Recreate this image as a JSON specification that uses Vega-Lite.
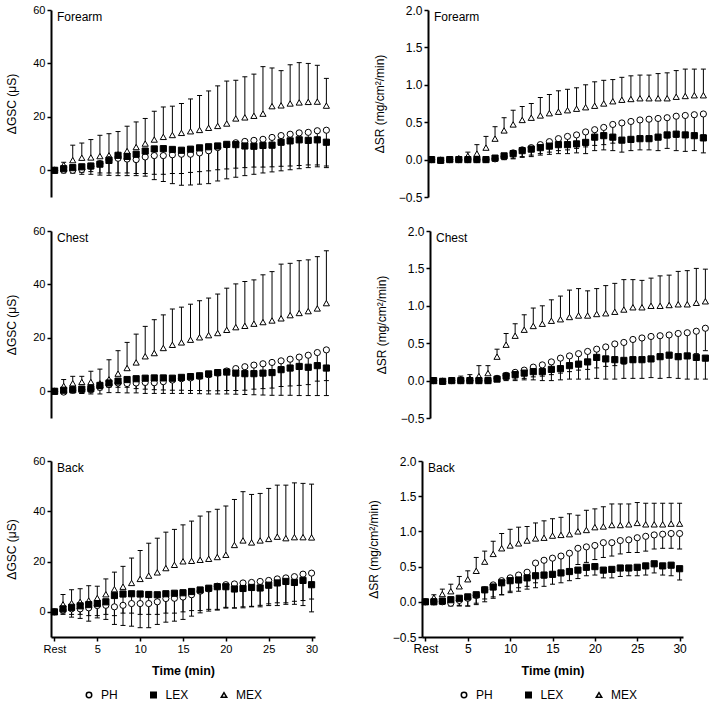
{
"$schema":"https://vega.github.io/schema/vega-lite/v6.json",
"background":"white",
"padding":{"left":5,"top":4,"right":0,"bottom":0},
"data":{"values":[
{"p":"gf","s":"MEX","t":0,"m":0,"e":0},{"p":"gf","s":"MEX","t":1,"m":2.0,"e":3.0},{"p":"gf","s":"MEX","t":2,"m":3.8,"e":9.4},{"p":"gf","s":"MEX","t":3,"m":4.7,"e":10.2},{"p":"gf","s":"MEX","t":4,"m":4.8,"e":11.5},{"p":"gf","s":"MEX","t":5,"m":5.3,"e":13.1},{"p":"gf","s":"MEX","t":6,"m":5.6,"e":13.7},{"p":"gf","s":"MEX","t":7,"m":6.0,"e":14.5},{"p":"gf","s":"MEX","t":8,"m":7.2,"e":16.5},{"p":"gf","s":"MEX","t":9,"m":8.7,"e":18.1},{"p":"gf","s":"MEX","t":10,"m":10.0,"e":19.4},{"p":"gf","s":"MEX","t":11,"m":11.5,"e":22.1},{"p":"gf","s":"MEX","t":12,"m":12.5,"e":23.7},{"p":"gf","s":"MEX","t":13,"m":13.2,"e":24.0},{"p":"gf","s":"MEX","t":14,"m":14.0,"e":25.0},{"p":"gf","s":"MEX","t":15,"m":14.6,"e":26.7},{"p":"gf","s":"MEX","t":16,"m":15.1,"e":28.0},{"p":"gf","s":"MEX","t":17,"m":15.9,"e":29.7},{"p":"gf","s":"MEX","t":18,"m":16.6,"e":31.6},{"p":"gf","s":"MEX","t":19,"m":17.5,"e":33.4},{"p":"gf","s":"MEX","t":20,"m":19.4,"e":33.7},{"p":"gf","s":"MEX","t":21,"m":19.8,"e":35.0},{"p":"gf","s":"MEX","t":22,"m":20.4,"e":36.0},{"p":"gf","s":"MEX","t":23,"m":21.2,"e":38.8},{"p":"gf","s":"MEX","t":24,"m":24.0,"e":38.3},{"p":"gf","s":"MEX","t":25,"m":24.3,"e":37.3},{"p":"gf","s":"MEX","t":26,"m":25.0,"e":39.5},{"p":"gf","s":"MEX","t":27,"m":25.4,"e":40.3},{"p":"gf","s":"MEX","t":28,"m":25.6,"e":40.0},{"p":"gf","s":"MEX","t":29,"m":25.7,"e":39.3},{"p":"gf","s":"MEX","t":30,"m":24.2,"e":34.4},
{"p":"gf","s":"PH","t":0,"m":0,"e":0},{"p":"gf","s":"PH","t":1,"m":0,"e":-1},{"p":"gf","s":"PH","t":2,"m":0,"e":-1},{"p":"gf","s":"PH","t":3,"m":0.3,"e":-1.5},{"p":"gf","s":"PH","t":4,"m":1.5,"e":-1.5},{"p":"gf","s":"PH","t":5,"m":2.5,"e":-1.8},{"p":"gf","s":"PH","t":6,"m":4.0,"e":-1.9},{"p":"gf","s":"PH","t":7,"m":4.5,"e":-2},{"p":"gf","s":"PH","t":8,"m":4.2,"e":-2},{"p":"gf","s":"PH","t":9,"m":4.0,"e":-2},{"p":"gf","s":"PH","t":10,"m":5.0,"e":-2.2},{"p":"gf","s":"PH","t":11,"m":5.5,"e":-3.5},{"p":"gf","s":"PH","t":12,"m":5.5,"e":-4.2},{"p":"gf","s":"PH","t":13,"m":5.8,"e":-5},{"p":"gf","s":"PH","t":14,"m":6.0,"e":-5.6},{"p":"gf","s":"PH","t":15,"m":6.0,"e":-5.5},{"p":"gf","s":"PH","t":16,"m":6.5,"e":-5.2},{"p":"gf","s":"PH","t":17,"m":7.3,"e":-5},{"p":"gf","s":"PH","t":18,"m":8.5,"e":-4},{"p":"gf","s":"PH","t":19,"m":9.5,"e":-3.2},{"p":"gf","s":"PH","t":20,"m":10.3,"e":-2.6},{"p":"gf","s":"PH","t":21,"m":10.8,"e":-2},{"p":"gf","s":"PH","t":22,"m":11.2,"e":-1.5},{"p":"gf","s":"PH","t":23,"m":11.6,"e":-1},{"p":"gf","s":"PH","t":24,"m":12.3,"e":-0.6},{"p":"gf","s":"PH","t":25,"m":13.0,"e":-0.2},{"p":"gf","s":"PH","t":26,"m":13.5,"e":0.2},{"p":"gf","s":"PH","t":27,"m":14.0,"e":0.6},{"p":"gf","s":"PH","t":28,"m":14.2,"e":1.0},{"p":"gf","s":"PH","t":29,"m":14.8,"e":1.3},{"p":"gf","s":"PH","t":30,"m":15.0,"e":1.6},
{"p":"gf","s":"LEX","t":0,"m":0,"e":0},{"p":"gf","s":"LEX","t":1,"m":0.6,"e":-0.5},{"p":"gf","s":"LEX","t":2,"m":1.0,"e":-1},{"p":"gf","s":"LEX","t":3,"m":1.3,"e":-0.8},{"p":"gf","s":"LEX","t":4,"m":1.6,"e":-0.5},{"p":"gf","s":"LEX","t":5,"m":2.3,"e":-1},{"p":"gf","s":"LEX","t":6,"m":3.7,"e":-1},{"p":"gf","s":"LEX","t":7,"m":5.6,"e":-1},{"p":"gf","s":"LEX","t":8,"m":5.2,"e":-1},{"p":"gf","s":"LEX","t":9,"m":6.0,"e":-1.2},{"p":"gf","s":"LEX","t":10,"m":7.2,"e":-1.2},{"p":"gf","s":"LEX","t":11,"m":8.0,"e":-1.5},{"p":"gf","s":"LEX","t":12,"m":8.1,"e":-1.5},{"p":"gf","s":"LEX","t":13,"m":7.8,"e":-1.2},{"p":"gf","s":"LEX","t":14,"m":7.5,"e":-1.2},{"p":"gf","s":"LEX","t":15,"m":7.9,"e":-0.8},{"p":"gf","s":"LEX","t":16,"m":8.4,"e":-0.5},{"p":"gf","s":"LEX","t":17,"m":8.8,"e":-0.2},{"p":"gf","s":"LEX","t":18,"m":9.1,"e":0.2},{"p":"gf","s":"LEX","t":19,"m":9.7,"e":0.5},{"p":"gf","s":"LEX","t":20,"m":9.6,"e":0.8},{"p":"gf","s":"LEX","t":21,"m":9.1,"e":1.0},{"p":"gf","s":"LEX","t":22,"m":9.0,"e":1.2},{"p":"gf","s":"LEX","t":23,"m":9.3,"e":1.2},{"p":"gf","s":"LEX","t":24,"m":9.4,"e":1.3},{"p":"gf","s":"LEX","t":25,"m":10.5,"e":1.5},{"p":"gf","s":"LEX","t":26,"m":11.0,"e":1.6},{"p":"gf","s":"LEX","t":27,"m":11.4,"e":1.8},{"p":"gf","s":"LEX","t":28,"m":11.2,"e":2.0},{"p":"gf","s":"LEX","t":29,"m":11.4,"e":2.0},{"p":"gf","s":"LEX","t":30,"m":10.5,"e":1.0},
{"p":"sf","s":"MEX","t":0,"m":0,"e":0},{"p":"sf","s":"MEX","t":1,"m":0,"e":0.01},{"p":"sf","s":"MEX","t":2,"m":0.01,"e":0.02},{"p":"sf","s":"MEX","t":3,"m":0.02,"e":0.04},{"p":"sf","s":"MEX","t":4,"m":0.05,"e":0.1},{"p":"sf","s":"MEX","t":5,"m":0.08,"e":0.2},{"p":"sf","s":"MEX","t":6,"m":0.16,"e":0.31},{"p":"sf","s":"MEX","t":7,"m":0.28,"e":0.44},{"p":"sf","s":"MEX","t":8,"m":0.39,"e":0.56},{"p":"sf","s":"MEX","t":9,"m":0.47,"e":0.66},{"p":"sf","s":"MEX","t":10,"m":0.53,"e":0.71},{"p":"sf","s":"MEX","t":11,"m":0.56,"e":0.75},{"p":"sf","s":"MEX","t":12,"m":0.59,"e":0.83},{"p":"sf","s":"MEX","t":13,"m":0.62,"e":0.87},{"p":"sf","s":"MEX","t":14,"m":0.64,"e":0.92},{"p":"sf","s":"MEX","t":15,"m":0.66,"e":0.94},{"p":"sf","s":"MEX","t":16,"m":0.68,"e":0.96},{"p":"sf","s":"MEX","t":17,"m":0.70,"e":1.0},{"p":"sf","s":"MEX","t":18,"m":0.72,"e":1.04},{"p":"sf","s":"MEX","t":19,"m":0.75,"e":1.06},{"p":"sf","s":"MEX","t":20,"m":0.78,"e":1.07},{"p":"sf","s":"MEX","t":21,"m":0.80,"e":1.1},{"p":"sf","s":"MEX","t":22,"m":0.81,"e":1.12},{"p":"sf","s":"MEX","t":23,"m":0.82,"e":1.13},{"p":"sf","s":"MEX","t":24,"m":0.82,"e":1.13},{"p":"sf","s":"MEX","t":25,"m":0.82,"e":1.15},{"p":"sf","s":"MEX","t":26,"m":0.82,"e":1.16},{"p":"sf","s":"MEX","t":27,"m":0.84,"e":1.19},{"p":"sf","s":"MEX","t":28,"m":0.85,"e":1.21},{"p":"sf","s":"MEX","t":29,"m":0.86,"e":1.21},{"p":"sf","s":"MEX","t":30,"m":0.86,"e":1.21},
{"p":"sf","s":"PH","t":0,"m":0,"e":0},{"p":"sf","s":"PH","t":1,"m":-0.01,"e":-0.02},{"p":"sf","s":"PH","t":2,"m":0,"e":-0.02},{"p":"sf","s":"PH","t":3,"m":0,"e":-0.02},{"p":"sf","s":"PH","t":4,"m":0,"e":-0.02},{"p":"sf","s":"PH","t":5,"m":0,"e":-0.02},{"p":"sf","s":"PH","t":6,"m":0,"e":-0.02},{"p":"sf","s":"PH","t":7,"m":0.01,"e":-0.02},{"p":"sf","s":"PH","t":8,"m":0.04,"e":0},{"p":"sf","s":"PH","t":9,"m":0.09,"e":0.02},{"p":"sf","s":"PH","t":10,"m":0.13,"e":0.04},{"p":"sf","s":"PH","t":11,"m":0.16,"e":0.06},{"p":"sf","s":"PH","t":12,"m":0.2,"e":0.08},{"p":"sf","s":"PH","t":13,"m":0.24,"e":0.1},{"p":"sf","s":"PH","t":14,"m":0.28,"e":0.12},{"p":"sf","s":"PH","t":15,"m":0.31,"e":0.13},{"p":"sf","s":"PH","t":16,"m":0.33,"e":0.15},{"p":"sf","s":"PH","t":17,"m":0.37,"e":0.17},{"p":"sf","s":"PH","t":18,"m":0.4,"e":0.19},{"p":"sf","s":"PH","t":19,"m":0.43,"e":0.2},{"p":"sf","s":"PH","t":20,"m":0.47,"e":0.22},{"p":"sf","s":"PH","t":21,"m":0.49,"e":0.23},{"p":"sf","s":"PH","t":22,"m":0.51,"e":0.25},{"p":"sf","s":"PH","t":23,"m":0.53,"e":0.26},{"p":"sf","s":"PH","t":24,"m":0.54,"e":0.27},{"p":"sf","s":"PH","t":25,"m":0.55,"e":0.28},{"p":"sf","s":"PH","t":26,"m":0.56,"e":0.29},{"p":"sf","s":"PH","t":27,"m":0.58,"e":0.3},{"p":"sf","s":"PH","t":28,"m":0.59,"e":0.31},{"p":"sf","s":"PH","t":29,"m":0.6,"e":0.32},{"p":"sf","s":"PH","t":30,"m":0.61,"e":0.33},
{"p":"sf","s":"LEX","t":0,"m":0,"e":0},{"p":"sf","s":"LEX","t":1,"m":-0.01,"e":-0.02},{"p":"sf","s":"LEX","t":2,"m":0,"e":-0.01},{"p":"sf","s":"LEX","t":3,"m":0,"e":-0.01},{"p":"sf","s":"LEX","t":4,"m":0,"e":-0.01},{"p":"sf","s":"LEX","t":5,"m":0,"e":-0.01},{"p":"sf","s":"LEX","t":6,"m":0,"e":-0.01},{"p":"sf","s":"LEX","t":7,"m":0.02,"e":0},{"p":"sf","s":"LEX","t":8,"m":0.05,"e":0},{"p":"sf","s":"LEX","t":9,"m":0.08,"e":0.01},{"p":"sf","s":"LEX","t":10,"m":0.12,"e":0.03},{"p":"sf","s":"LEX","t":11,"m":0.14,"e":0.04},{"p":"sf","s":"LEX","t":12,"m":0.16,"e":0.06},{"p":"sf","s":"LEX","t":13,"m":0.18,"e":0.07},{"p":"sf","s":"LEX","t":14,"m":0.2,"e":0.08},{"p":"sf","s":"LEX","t":15,"m":0.2,"e":0.08},{"p":"sf","s":"LEX","t":16,"m":0.21,"e":0.09},{"p":"sf","s":"LEX","t":17,"m":0.23,"e":0.08},{"p":"sf","s":"LEX","t":18,"m":0.3,"e":0.12},{"p":"sf","s":"LEX","t":19,"m":0.32,"e":0.13},{"p":"sf","s":"LEX","t":20,"m":0.3,"e":0.12},{"p":"sf","s":"LEX","t":21,"m":0.26,"e":0.1},{"p":"sf","s":"LEX","t":22,"m":0.27,"e":0.12},{"p":"sf","s":"LEX","t":23,"m":0.28,"e":0.13},{"p":"sf","s":"LEX","t":24,"m":0.28,"e":0.13},{"p":"sf","s":"LEX","t":25,"m":0.3,"e":0.12},{"p":"sf","s":"LEX","t":26,"m":0.33,"e":0.15},{"p":"sf","s":"LEX","t":27,"m":0.34,"e":0.12},{"p":"sf","s":"LEX","t":28,"m":0.33,"e":0.11},{"p":"sf","s":"LEX","t":29,"m":0.32,"e":0.12},{"p":"sf","s":"LEX","t":30,"m":0.29,"e":0.09},
{"p":"gc","s":"MEX","t":0,"m":0,"e":0},{"p":"gc","s":"MEX","t":1,"m":2.0,"e":4.4},{"p":"gc","s":"MEX","t":2,"m":3.0,"e":5.6},{"p":"gc","s":"MEX","t":3,"m":3.5,"e":5.6},{"p":"gc","s":"MEX","t":4,"m":3.5,"e":7.5},{"p":"gc","s":"MEX","t":5,"m":3.0,"e":8.3},{"p":"gc","s":"MEX","t":6,"m":4.5,"e":11.8},{"p":"gc","s":"MEX","t":7,"m":6.6,"e":15.2},{"p":"gc","s":"MEX","t":8,"m":8.7,"e":18.3},{"p":"gc","s":"MEX","t":9,"m":10.8,"e":21.4},{"p":"gc","s":"MEX","t":10,"m":13.1,"e":24.3},{"p":"gc","s":"MEX","t":11,"m":14.3,"e":26.8},{"p":"gc","s":"MEX","t":12,"m":16.2,"e":28.6},{"p":"gc","s":"MEX","t":13,"m":17.4,"e":30.8},{"p":"gc","s":"MEX","t":14,"m":18.3,"e":31.5},{"p":"gc","s":"MEX","t":15,"m":19.3,"e":32.6},{"p":"gc","s":"MEX","t":16,"m":20.2,"e":33.9},{"p":"gc","s":"MEX","t":17,"m":21.0,"e":34.9},{"p":"gc","s":"MEX","t":18,"m":21.8,"e":36.4},{"p":"gc","s":"MEX","t":19,"m":23.0,"e":38.6},{"p":"gc","s":"MEX","t":20,"m":24.0,"e":40.2},{"p":"gc","s":"MEX","t":21,"m":24.5,"e":41.1},{"p":"gc","s":"MEX","t":22,"m":25.3,"e":41.7},{"p":"gc","s":"MEX","t":23,"m":25.9,"e":43.6},{"p":"gc","s":"MEX","t":24,"m":26.5,"e":44.8},{"p":"gc","s":"MEX","t":25,"m":27.3,"e":47.6},{"p":"gc","s":"MEX","t":26,"m":28.5,"e":47.9},{"p":"gc","s":"MEX","t":27,"m":29.3,"e":48.9},{"p":"gc","s":"MEX","t":28,"m":30.0,"e":49.2},{"p":"gc","s":"MEX","t":29,"m":31.0,"e":50.4},{"p":"gc","s":"MEX","t":30,"m":33.0,"e":52.6},
{"p":"gc","s":"PH","t":0,"m":0,"e":0},{"p":"gc","s":"PH","t":1,"m":-0.3,"e":-1},{"p":"gc","s":"PH","t":2,"m":0.4,"e":-0.5},{"p":"gc","s":"PH","t":3,"m":0.6,"e":-0.8},{"p":"gc","s":"PH","t":4,"m":0.8,"e":-1},{"p":"gc","s":"PH","t":5,"m":1.5,"e":-1},{"p":"gc","s":"PH","t":6,"m":2.5,"e":-0.5},{"p":"gc","s":"PH","t":7,"m":3.1,"e":-0.5},{"p":"gc","s":"PH","t":8,"m":2.9,"e":-0.6},{"p":"gc","s":"PH","t":9,"m":3.1,"e":-0.6},{"p":"gc","s":"PH","t":10,"m":3.3,"e":-0.8},{"p":"gc","s":"PH","t":11,"m":3.2,"e":-0.8},{"p":"gc","s":"PH","t":12,"m":3.6,"e":-0.8},{"p":"gc","s":"PH","t":13,"m":4.2,"e":-0.8},{"p":"gc","s":"PH","t":14,"m":4.7,"e":-0.8},{"p":"gc","s":"PH","t":15,"m":5.0,"e":-0.8},{"p":"gc","s":"PH","t":16,"m":5.6,"e":-0.9},{"p":"gc","s":"PH","t":17,"m":6.2,"e":-1},{"p":"gc","s":"PH","t":18,"m":6.8,"e":-1},{"p":"gc","s":"PH","t":19,"m":7.6,"e":-1},{"p":"gc","s":"PH","t":20,"m":8.5,"e":-1.1},{"p":"gc","s":"PH","t":21,"m":9.2,"e":-1.2},{"p":"gc","s":"PH","t":22,"m":9.8,"e":-1.3},{"p":"gc","s":"PH","t":23,"m":10.3,"e":-1.4},{"p":"gc","s":"PH","t":24,"m":10.8,"e":-1.5},{"p":"gc","s":"PH","t":25,"m":11.4,"e":-1.5},{"p":"gc","s":"PH","t":26,"m":12.0,"e":-1.5},{"p":"gc","s":"PH","t":27,"m":12.8,"e":-1.6},{"p":"gc","s":"PH","t":28,"m":13.5,"e":-1.6},{"p":"gc","s":"PH","t":29,"m":14.5,"e":-1.6},{"p":"gc","s":"PH","t":30,"m":15.5,"e":-1.6},
{"p":"gc","s":"LEX","t":0,"m":0,"e":0},{"p":"gc","s":"LEX","t":1,"m":0.4,"e":-0.8},{"p":"gc","s":"LEX","t":2,"m":0.6,"e":-0.6},{"p":"gc","s":"LEX","t":3,"m":0.8,"e":-0.8},{"p":"gc","s":"LEX","t":4,"m":1.0,"e":-0.5},{"p":"gc","s":"LEX","t":5,"m":2.2,"e":0.5},{"p":"gc","s":"LEX","t":6,"m":3.1,"e":1.5},{"p":"gc","s":"LEX","t":7,"m":3.8,"e":1.5},{"p":"gc","s":"LEX","t":8,"m":4.4,"e":1.5},{"p":"gc","s":"LEX","t":9,"m":4.7,"e":1},{"p":"gc","s":"LEX","t":10,"m":4.9,"e":0.8},{"p":"gc","s":"LEX","t":11,"m":5.0,"e":0.6},{"p":"gc","s":"LEX","t":12,"m":5.0,"e":0.5},{"p":"gc","s":"LEX","t":13,"m":4.9,"e":0.4},{"p":"gc","s":"LEX","t":14,"m":5.2,"e":0.4},{"p":"gc","s":"LEX","t":15,"m":5.5,"e":0.3},{"p":"gc","s":"LEX","t":16,"m":5.8,"e":0.3},{"p":"gc","s":"LEX","t":17,"m":6.5,"e":0.2},{"p":"gc","s":"LEX","t":18,"m":7.0,"e":0.2},{"p":"gc","s":"LEX","t":19,"m":7.2,"e":0.3},{"p":"gc","s":"LEX","t":20,"m":6.8,"e":0.3},{"p":"gc","s":"LEX","t":21,"m":6.6,"e":0.4},{"p":"gc","s":"LEX","t":22,"m":6.6,"e":0.8},{"p":"gc","s":"LEX","t":23,"m":6.8,"e":1},{"p":"gc","s":"LEX","t":24,"m":7.0,"e":1.2},{"p":"gc","s":"LEX","t":25,"m":8.1,"e":1.8},{"p":"gc","s":"LEX","t":26,"m":8.7,"e":2.0},{"p":"gc","s":"LEX","t":27,"m":9.3,"e":2.2},{"p":"gc","s":"LEX","t":28,"m":9.0,"e":2.5},{"p":"gc","s":"LEX","t":29,"m":9.6,"e":3.8},{"p":"gc","s":"LEX","t":30,"m":8.7,"e":4.0},
{"p":"sc","s":"MEX","t":0,"m":0,"e":0},{"p":"sc","s":"MEX","t":1,"m":0,"e":0.01},{"p":"sc","s":"MEX","t":2,"m":0.01,"e":0.02},{"p":"sc","s":"MEX","t":3,"m":0.02,"e":0.06},{"p":"sc","s":"MEX","t":4,"m":0.03,"e":0.08},{"p":"sc","s":"MEX","t":5,"m":0.06,"e":0.2},{"p":"sc","s":"MEX","t":6,"m":0.1,"e":0.2},{"p":"sc","s":"MEX","t":7,"m":0.32,"e":0.42},{"p":"sc","s":"MEX","t":8,"m":0.48,"e":0.63},{"p":"sc","s":"MEX","t":9,"m":0.6,"e":0.76},{"p":"sc","s":"MEX","t":10,"m":0.68,"e":0.88},{"p":"sc","s":"MEX","t":11,"m":0.73,"e":0.97},{"p":"sc","s":"MEX","t":12,"m":0.76,"e":1.0},{"p":"sc","s":"MEX","t":13,"m":0.8,"e":1.08},{"p":"sc","s":"MEX","t":14,"m":0.82,"e":1.13},{"p":"sc","s":"MEX","t":15,"m":0.85,"e":1.21},{"p":"sc","s":"MEX","t":16,"m":0.87,"e":1.23},{"p":"sc","s":"MEX","t":17,"m":0.87,"e":1.2},{"p":"sc","s":"MEX","t":18,"m":0.89,"e":1.23},{"p":"sc","s":"MEX","t":19,"m":0.9,"e":1.27},{"p":"sc","s":"MEX","t":20,"m":0.92,"e":1.3},{"p":"sc","s":"MEX","t":21,"m":0.95,"e":1.35},{"p":"sc","s":"MEX","t":22,"m":0.98,"e":1.35},{"p":"sc","s":"MEX","t":23,"m":0.98,"e":1.34},{"p":"sc","s":"MEX","t":24,"m":1.0,"e":1.37},{"p":"sc","s":"MEX","t":25,"m":1.0,"e":1.4},{"p":"sc","s":"MEX","t":26,"m":1.01,"e":1.41},{"p":"sc","s":"MEX","t":27,"m":1.02,"e":1.46},{"p":"sc","s":"MEX","t":28,"m":1.02,"e":1.47},{"p":"sc","s":"MEX","t":29,"m":1.04,"e":1.5},{"p":"sc","s":"MEX","t":30,"m":1.06,"e":1.49},
{"p":"sc","s":"PH","t":0,"m":0,"e":0},{"p":"sc","s":"PH","t":1,"m":-0.01,"e":-0.02},{"p":"sc","s":"PH","t":2,"m":0,"e":-0.02},{"p":"sc","s":"PH","t":3,"m":0,"e":-0.03},{"p":"sc","s":"PH","t":4,"m":0,"e":-0.03},{"p":"sc","s":"PH","t":5,"m":0,"e":-0.03},{"p":"sc","s":"PH","t":6,"m":0,"e":-0.02},{"p":"sc","s":"PH","t":7,"m":0.03,"e":0},{"p":"sc","s":"PH","t":8,"m":0.07,"e":0.01},{"p":"sc","s":"PH","t":9,"m":0.11,"e":0.02},{"p":"sc","s":"PH","t":10,"m":0.14,"e":0.03},{"p":"sc","s":"PH","t":11,"m":0.18,"e":0.05},{"p":"sc","s":"PH","t":12,"m":0.21,"e":0.06},{"p":"sc","s":"PH","t":13,"m":0.25,"e":0.08},{"p":"sc","s":"PH","t":14,"m":0.3,"e":0.1},{"p":"sc","s":"PH","t":15,"m":0.33,"e":0.12},{"p":"sc","s":"PH","t":16,"m":0.36,"e":0.14},{"p":"sc","s":"PH","t":17,"m":0.39,"e":0.15},{"p":"sc","s":"PH","t":18,"m":0.42,"e":0.17},{"p":"sc","s":"PH","t":19,"m":0.45,"e":0.19},{"p":"sc","s":"PH","t":20,"m":0.49,"e":0.2},{"p":"sc","s":"PH","t":21,"m":0.51,"e":0.22},{"p":"sc","s":"PH","t":22,"m":0.55,"e":0.25},{"p":"sc","s":"PH","t":23,"m":0.57,"e":0.27},{"p":"sc","s":"PH","t":24,"m":0.59,"e":0.28},{"p":"sc","s":"PH","t":25,"m":0.6,"e":0.3},{"p":"sc","s":"PH","t":26,"m":0.61,"e":0.31},{"p":"sc","s":"PH","t":27,"m":0.63,"e":0.33},{"p":"sc","s":"PH","t":28,"m":0.64,"e":0.34},{"p":"sc","s":"PH","t":29,"m":0.66,"e":0.36},{"p":"sc","s":"PH","t":30,"m":0.7,"e":0.4},
{"p":"sc","s":"LEX","t":0,"m":0,"e":0},{"p":"sc","s":"LEX","t":1,"m":-0.01,"e":-0.02},{"p":"sc","s":"LEX","t":2,"m":0,"e":-0.02},{"p":"sc","s":"LEX","t":3,"m":0,"e":-0.02},{"p":"sc","s":"LEX","t":4,"m":0,"e":-0.02},{"p":"sc","s":"LEX","t":5,"m":0,"e":-0.02},{"p":"sc","s":"LEX","t":6,"m":0,"e":-0.02},{"p":"sc","s":"LEX","t":7,"m":0.02,"e":-0.01},{"p":"sc","s":"LEX","t":8,"m":0.06,"e":0},{"p":"sc","s":"LEX","t":9,"m":0.08,"e":0},{"p":"sc","s":"LEX","t":10,"m":0.1,"e":0.01},{"p":"sc","s":"LEX","t":11,"m":0.12,"e":0.01},{"p":"sc","s":"LEX","t":12,"m":0.12,"e":0},{"p":"sc","s":"LEX","t":13,"m":0.15,"e":0},{"p":"sc","s":"LEX","t":14,"m":0.16,"e":0.01},{"p":"sc","s":"LEX","t":15,"m":0.2,"e":0.02},{"p":"sc","s":"LEX","t":16,"m":0.22,"e":0.02},{"p":"sc","s":"LEX","t":17,"m":0.25,"e":0.02},{"p":"sc","s":"LEX","t":18,"m":0.31,"e":0.03},{"p":"sc","s":"LEX","t":19,"m":0.29,"e":0.02},{"p":"sc","s":"LEX","t":20,"m":0.28,"e":0.02},{"p":"sc","s":"LEX","t":21,"m":0.27,"e":0.03},{"p":"sc","s":"LEX","t":22,"m":0.28,"e":0.03},{"p":"sc","s":"LEX","t":23,"m":0.28,"e":0.03},{"p":"sc","s":"LEX","t":24,"m":0.29,"e":0.04},{"p":"sc","s":"LEX","t":25,"m":0.32,"e":0.03},{"p":"sc","s":"LEX","t":26,"m":0.34,"e":0.04},{"p":"sc","s":"LEX","t":27,"m":0.32,"e":0.03},{"p":"sc","s":"LEX","t":28,"m":0.33,"e":0.02},{"p":"sc","s":"LEX","t":29,"m":0.31,"e":0.02},{"p":"sc","s":"LEX","t":30,"m":0.3,"e":0.02},
{"p":"gb","s":"MEX","t":0,"m":0,"e":0},{"p":"gb","s":"MEX","t":1,"m":3.0,"e":6.9},{"p":"gb","s":"MEX","t":2,"m":3.5,"e":8.8},{"p":"gb","s":"MEX","t":3,"m":4.0,"e":9.2},{"p":"gb","s":"MEX","t":4,"m":4.5,"e":10.4},{"p":"gb","s":"MEX","t":5,"m":5.5,"e":10.2},{"p":"gb","s":"MEX","t":6,"m":7.0,"e":13.1},{"p":"gb","s":"MEX","t":7,"m":9.0,"e":15.8},{"p":"gb","s":"MEX","t":8,"m":10.0,"e":18.1},{"p":"gb","s":"MEX","t":9,"m":11.5,"e":21.4},{"p":"gb","s":"MEX","t":10,"m":13.1,"e":24.4},{"p":"gb","s":"MEX","t":11,"m":14.4,"e":27.3},{"p":"gb","s":"MEX","t":12,"m":15.7,"e":29.3},{"p":"gb","s":"MEX","t":13,"m":17.4,"e":31.7},{"p":"gb","s":"MEX","t":14,"m":18.7,"e":32.8},{"p":"gb","s":"MEX","t":15,"m":20.1,"e":34.6},{"p":"gb","s":"MEX","t":16,"m":20.3,"e":36.1},{"p":"gb","s":"MEX","t":17,"m":20.7,"e":38.1},{"p":"gb","s":"MEX","t":18,"m":21.1,"e":39.8},{"p":"gb","s":"MEX","t":19,"m":21.8,"e":40.8},{"p":"gb","s":"MEX","t":20,"m":22.7,"e":42.1},{"p":"gb","s":"MEX","t":21,"m":26.6,"e":44.7},{"p":"gb","s":"MEX","t":22,"m":28.4,"e":47.8},{"p":"gb","s":"MEX","t":23,"m":27.6,"e":46.7},{"p":"gb","s":"MEX","t":24,"m":28.4,"e":47.1},{"p":"gb","s":"MEX","t":25,"m":29.0,"e":49.1},{"p":"gb","s":"MEX","t":26,"m":29.9,"e":50.4},{"p":"gb","s":"MEX","t":27,"m":29.3,"e":50.4},{"p":"gb","s":"MEX","t":28,"m":29.7,"e":51.3},{"p":"gb","s":"MEX","t":29,"m":29.7,"e":51.1},{"p":"gb","s":"MEX","t":30,"m":29.6,"e":50.8},
{"p":"gb","s":"PH","t":0,"m":0,"e":0},{"p":"gb","s":"PH","t":1,"m":0.7,"e":-1},{"p":"gb","s":"PH","t":2,"m":1.2,"e":-2.1},{"p":"gb","s":"PH","t":3,"m":1.2,"e":-2.6},{"p":"gb","s":"PH","t":4,"m":1.6,"e":-3.7},{"p":"gb","s":"PH","t":5,"m":2.5,"e":-2.4},{"p":"gb","s":"PH","t":6,"m":2.6,"e":-3},{"p":"gb","s":"PH","t":7,"m":2.0,"e":-5},{"p":"gb","s":"PH","t":8,"m":2.6,"e":-5.4},{"p":"gb","s":"PH","t":9,"m":3.3,"e":-5.7},{"p":"gb","s":"PH","t":10,"m":3.3,"e":-6.3},{"p":"gb","s":"PH","t":11,"m":3.3,"e":-6.3},{"p":"gb","s":"PH","t":12,"m":4.0,"e":-5},{"p":"gb","s":"PH","t":13,"m":5.3,"e":-4.1},{"p":"gb","s":"PH","t":14,"m":5.4,"e":-3.7},{"p":"gb","s":"PH","t":15,"m":5.9,"e":-3},{"p":"gb","s":"PH","t":16,"m":6.8,"e":-1.7},{"p":"gb","s":"PH","t":17,"m":8.2,"e":-0.4},{"p":"gb","s":"PH","t":18,"m":9.1,"e":0.3},{"p":"gb","s":"PH","t":19,"m":10.2,"e":0.7},{"p":"gb","s":"PH","t":20,"m":10.8,"e":1.8},{"p":"gb","s":"PH","t":21,"m":11.1,"e":1.6},{"p":"gb","s":"PH","t":22,"m":11.5,"e":1.6},{"p":"gb","s":"PH","t":23,"m":11.7,"e":2.2},{"p":"gb","s":"PH","t":24,"m":12.1,"e":2.6},{"p":"gb","s":"PH","t":25,"m":12.5,"e":3.2},{"p":"gb","s":"PH","t":26,"m":13.1,"e":3.6},{"p":"gb","s":"PH","t":27,"m":13.5,"e":3.6},{"p":"gb","s":"PH","t":28,"m":14.0,"e":4.2},{"p":"gb","s":"PH","t":29,"m":15.0,"e":4.5},{"p":"gb","s":"PH","t":30,"m":15.4,"e":5.1},
{"p":"gb","s":"LEX","t":0,"m":0,"e":0},{"p":"gb","s":"LEX","t":1,"m":1.2,"e":-0.5},{"p":"gb","s":"LEX","t":2,"m":1.8,"e":-1},{"p":"gb","s":"LEX","t":3,"m":2.4,"e":-1},{"p":"gb","s":"LEX","t":4,"m":2.9,"e":-1.5},{"p":"gb","s":"LEX","t":5,"m":3.3,"e":-1.5},{"p":"gb","s":"LEX","t":6,"m":4.0,"e":-1},{"p":"gb","s":"LEX","t":7,"m":6.5,"e":-1.5},{"p":"gb","s":"LEX","t":8,"m":7.1,"e":-0.5},{"p":"gb","s":"LEX","t":9,"m":7.2,"e":-0.5},{"p":"gb","s":"LEX","t":10,"m":7.1,"e":-1},{"p":"gb","s":"LEX","t":11,"m":6.9,"e":-1},{"p":"gb","s":"LEX","t":12,"m":6.8,"e":-1},{"p":"gb","s":"LEX","t":13,"m":7.2,"e":-0.5},{"p":"gb","s":"LEX","t":14,"m":7.4,"e":-0.5},{"p":"gb","s":"LEX","t":15,"m":7.6,"e":0},{"p":"gb","s":"LEX","t":16,"m":8.1,"e":0.5},{"p":"gb","s":"LEX","t":17,"m":8.7,"e":0.5},{"p":"gb","s":"LEX","t":18,"m":9.4,"e":1.0},{"p":"gb","s":"LEX","t":19,"m":10.0,"e":1.0},{"p":"gb","s":"LEX","t":20,"m":10.0,"e":1.5},{"p":"gb","s":"LEX","t":21,"m":9.1,"e":1.5},{"p":"gb","s":"LEX","t":22,"m":9.3,"e":2.0},{"p":"gb","s":"LEX","t":23,"m":9.7,"e":2.0},{"p":"gb","s":"LEX","t":24,"m":9.5,"e":2.0},{"p":"gb","s":"LEX","t":25,"m":10.6,"e":2.5},{"p":"gb","s":"LEX","t":26,"m":11.5,"e":2.5},{"p":"gb","s":"LEX","t":27,"m":12.1,"e":3.0},{"p":"gb","s":"LEX","t":28,"m":11.7,"e":3.0},{"p":"gb","s":"LEX","t":29,"m":12.5,"e":2.5},{"p":"gb","s":"LEX","t":30,"m":10.8,"e":0},
{"p":"sb","s":"MEX","t":0,"m":0,"e":0},{"p":"sb","s":"MEX","t":1,"m":0.06,"e":0.1},{"p":"sb","s":"MEX","t":2,"m":0.11,"e":0.18},{"p":"sb","s":"MEX","t":3,"m":0.15,"e":0.25},{"p":"sb","s":"MEX","t":4,"m":0.22,"e":0.36},{"p":"sb","s":"MEX","t":5,"m":0.32,"e":0.44},{"p":"sb","s":"MEX","t":6,"m":0.44,"e":0.63},{"p":"sb","s":"MEX","t":7,"m":0.57,"e":0.72},{"p":"sb","s":"MEX","t":8,"m":0.68,"e":0.86},{"p":"sb","s":"MEX","t":9,"m":0.76,"e":0.97},{"p":"sb","s":"MEX","t":10,"m":0.8,"e":1.03},{"p":"sb","s":"MEX","t":11,"m":0.83,"e":1.06},{"p":"sb","s":"MEX","t":12,"m":0.87,"e":1.07},{"p":"sb","s":"MEX","t":13,"m":0.9,"e":1.12},{"p":"sb","s":"MEX","t":14,"m":0.91,"e":1.15},{"p":"sb","s":"MEX","t":15,"m":0.94,"e":1.18},{"p":"sb","s":"MEX","t":16,"m":0.95,"e":1.2},{"p":"sb","s":"MEX","t":17,"m":0.96,"e":1.25},{"p":"sb","s":"MEX","t":18,"m":1.0,"e":1.23},{"p":"sb","s":"MEX","t":19,"m":1.02,"e":1.3},{"p":"sb","s":"MEX","t":20,"m":1.06,"e":1.32},{"p":"sb","s":"MEX","t":21,"m":1.07,"e":1.35},{"p":"sb","s":"MEX","t":22,"m":1.09,"e":1.39},{"p":"sb","s":"MEX","t":23,"m":1.09,"e":1.39},{"p":"sb","s":"MEX","t":24,"m":1.1,"e":1.39},{"p":"sb","s":"MEX","t":25,"m":1.12,"e":1.41},{"p":"sb","s":"MEX","t":26,"m":1.1,"e":1.4},{"p":"sb","s":"MEX","t":27,"m":1.1,"e":1.4},{"p":"sb","s":"MEX","t":28,"m":1.1,"e":1.4},{"p":"sb","s":"MEX","t":29,"m":1.11,"e":1.4},{"p":"sb","s":"MEX","t":30,"m":1.11,"e":1.4},
{"p":"sb","s":"PH","t":0,"m":0,"e":0},{"p":"sb","s":"PH","t":1,"m":0,"e":-0.02},{"p":"sb","s":"PH","t":2,"m":0,"e":-0.03},{"p":"sb","s":"PH","t":3,"m":-0.02,"e":-0.06},{"p":"sb","s":"PH","t":4,"m":0.02,"e":-0.06},{"p":"sb","s":"PH","t":5,"m":0.05,"e":-0.06},{"p":"sb","s":"PH","t":6,"m":0.09,"e":-0.04},{"p":"sb","s":"PH","t":7,"m":0.17,"e":0},{"p":"sb","s":"PH","t":8,"m":0.24,"e":0.05},{"p":"sb","s":"PH","t":9,"m":0.3,"e":0.1},{"p":"sb","s":"PH","t":10,"m":0.34,"e":0.15},{"p":"sb","s":"PH","t":11,"m":0.38,"e":0.2},{"p":"sb","s":"PH","t":12,"m":0.42,"e":0.22},{"p":"sb","s":"PH","t":13,"m":0.55,"e":0.27},{"p":"sb","s":"PH","t":14,"m":0.59,"e":0.34},{"p":"sb","s":"PH","t":15,"m":0.62,"e":0.37},{"p":"sb","s":"PH","t":16,"m":0.65,"e":0.41},{"p":"sb","s":"PH","t":17,"m":0.69,"e":0.44},{"p":"sb","s":"PH","t":18,"m":0.76,"e":0.53},{"p":"sb","s":"PH","t":19,"m":0.78,"e":0.56},{"p":"sb","s":"PH","t":20,"m":0.8,"e":0.6},{"p":"sb","s":"PH","t":21,"m":0.84,"e":0.63},{"p":"sb","s":"PH","t":22,"m":0.84,"e":0.65},{"p":"sb","s":"PH","t":23,"m":0.87,"e":0.68},{"p":"sb","s":"PH","t":24,"m":0.88,"e":0.7},{"p":"sb","s":"PH","t":25,"m":0.91,"e":0.7},{"p":"sb","s":"PH","t":26,"m":0.93,"e":0.72},{"p":"sb","s":"PH","t":27,"m":0.95,"e":0.75},{"p":"sb","s":"PH","t":28,"m":0.96,"e":0.76},{"p":"sb","s":"PH","t":29,"m":0.97,"e":0.76},{"p":"sb","s":"PH","t":30,"m":0.97,"e":0.75},
{"p":"sb","s":"LEX","t":0,"m":0,"e":0},{"p":"sb","s":"LEX","t":1,"m":0,"e":-0.02},{"p":"sb","s":"LEX","t":2,"m":0.01,"e":-0.03},{"p":"sb","s":"LEX","t":3,"m":0.03,"e":-0.04},{"p":"sb","s":"LEX","t":4,"m":0.05,"e":-0.05},{"p":"sb","s":"LEX","t":5,"m":0.07,"e":-0.06},{"p":"sb","s":"LEX","t":6,"m":0.1,"e":-0.02},{"p":"sb","s":"LEX","t":7,"m":0.17,"e":0.04},{"p":"sb","s":"LEX","t":8,"m":0.21,"e":0.07},{"p":"sb","s":"LEX","t":9,"m":0.27,"e":0.1},{"p":"sb","s":"LEX","t":10,"m":0.3,"e":0.13},{"p":"sb","s":"LEX","t":11,"m":0.31,"e":0.15},{"p":"sb","s":"LEX","t":12,"m":0.34,"e":0.18},{"p":"sb","s":"LEX","t":13,"m":0.37,"e":0.2},{"p":"sb","s":"LEX","t":14,"m":0.38,"e":0.22},{"p":"sb","s":"LEX","t":15,"m":0.39,"e":0.25},{"p":"sb","s":"LEX","t":16,"m":0.41,"e":0.27},{"p":"sb","s":"LEX","t":17,"m":0.43,"e":0.3},{"p":"sb","s":"LEX","t":18,"m":0.45,"e":0.33},{"p":"sb","s":"LEX","t":19,"m":0.49,"e":0.37},{"p":"sb","s":"LEX","t":20,"m":0.5,"e":0.38},{"p":"sb","s":"LEX","t":21,"m":0.45,"e":0.34},{"p":"sb","s":"LEX","t":22,"m":0.46,"e":0.34},{"p":"sb","s":"LEX","t":23,"m":0.48,"e":0.36},{"p":"sb","s":"LEX","t":24,"m":0.48,"e":0.37},{"p":"sb","s":"LEX","t":25,"m":0.49,"e":0.37},{"p":"sb","s":"LEX","t":26,"m":0.51,"e":0.38},{"p":"sb","s":"LEX","t":27,"m":0.54,"e":0.41},{"p":"sb","s":"LEX","t":28,"m":0.51,"e":0.38},{"p":"sb","s":"LEX","t":29,"m":0.52,"e":0.37},{"p":"sb","s":"LEX","t":30,"m":0.47,"e":0.31}
]},
"vconcat":[
 {"vconcat":[
  {"hconcat":[
   {"width":279,"height":187,
    "title":{"text":"Forearm","frame":"group","anchor":"start","offset":-20,"dx":6},
    "transform":[{"filter":"datum.p==='gf'"}],
    "encoding":{"x":{"field":"t","type":"quantitative","scale":{"domain":[-0.4,30.4],"nice":false,"zero":false},"axis":null},
     "y":{"field":"m","type":"quantitative","title":"ΔGSC (μS)","scale":{"domain":[-10,60],"nice":false,"zero":false},"axis":{"values":[0,20,40,60],"titlePadding":14,"labelOverlap":false,"offset":0}}},
    "layer":[
     {"mark":{"type":"rule","color":"black","strokeWidth":1},"encoding":{"y2":{"field":"e"}}},
     {"mark":{"type":"tick","orient":"horizontal","color":"black","size":5,"thickness":1,"opacity":1},"encoding":{"y":{"field":"e","type":"quantitative","title":"ΔGSC (μS)","scale":{"domain":[-10,60],"nice":false,"zero":false},"axis":{"values":[0,20,40,60],"titlePadding":14,"labelOverlap":false,"offset":0}}}},
     {"mark":{"type":"point","filled":true,"size":38,"stroke":"black","strokeWidth":1,"opacity":1},"encoding":{
      "shape":{"field":"s","type":"nominal","scale":{"domain":["PH","LEX","MEX"],"range":["circle","square","triangle-up"]},"legend":null},
      "fill":{"field":"s","type":"nominal","scale":{"domain":["PH","LEX","MEX"],"range":["white","black","white"]},"legend":null}}}
    ]},
   {"width":279,"height":187,
    "title":{"text":"Forearm","frame":"group","anchor":"start","offset":-20,"dx":6},
    "transform":[{"filter":"datum.p==='sf'"}],
    "encoding":{"x":{"field":"t","type":"quantitative","scale":{"domain":[-0.4,30.4],"nice":false,"zero":false},"axis":null},
     "y":{"field":"m","type":"quantitative","title":"ΔSR (mg/cm²/min)","scale":{"domain":[-0.5,2],"nice":false,"zero":false},"axis":{"values":[-0.5,0,0.5,1,1.5,2],"format":".1f","labelFontSize":12,"titlePadding":12,"labelOverlap":false,"offset":0}}},
    "layer":[
     {"mark":{"type":"rule","color":"black","strokeWidth":1},"encoding":{"y2":{"field":"e"}}},
     {"mark":{"type":"tick","orient":"horizontal","color":"black","size":5,"thickness":1,"opacity":1},"encoding":{"y":{"field":"e","type":"quantitative","title":"ΔSR (mg/cm²/min)","scale":{"domain":[-0.5,2],"nice":false,"zero":false},"axis":{"values":[-0.5,0,0.5,1,1.5,2],"format":".1f","labelFontSize":12,"titlePadding":12,"labelOverlap":false,"offset":0}}}},
     {"mark":{"type":"point","filled":true,"size":38,"stroke":"black","strokeWidth":1,"opacity":1},"encoding":{
      "shape":{"field":"s","type":"nominal","scale":{"domain":["PH","LEX","MEX"],"range":["circle","square","triangle-up"]},"legend":null},
      "fill":{"field":"s","type":"nominal","scale":{"domain":["PH","LEX","MEX"],"range":["white","black","white"]},"legend":null}}}
    ]}
  ],"spacing":41,"resolve":{"scale":{"shape":"independent","fill":"independent"},"legend":{"shape":"independent","fill":"independent"}}},
  {"hconcat":[
   {"width":279,"height":187,
    "title":{"text":"Chest","frame":"group","anchor":"start","offset":-20,"dx":6},
    "transform":[{"filter":"datum.p==='gc'"}],
    "encoding":{"x":{"field":"t","type":"quantitative","scale":{"domain":[-0.4,30.4],"nice":false,"zero":false},"axis":null},
     "y":{"field":"m","type":"quantitative","title":"ΔGSC (μS)","scale":{"domain":[-10,60],"nice":false,"zero":false},"axis":{"values":[0,20,40,60],"titlePadding":14,"labelOverlap":false,"offset":0}}},
    "layer":[
     {"mark":{"type":"rule","color":"black","strokeWidth":1},"encoding":{"y2":{"field":"e"}}},
     {"mark":{"type":"tick","orient":"horizontal","color":"black","size":5,"thickness":1,"opacity":1},"encoding":{"y":{"field":"e","type":"quantitative","title":"ΔGSC (μS)","scale":{"domain":[-10,60],"nice":false,"zero":false},"axis":{"values":[0,20,40,60],"titlePadding":14,"labelOverlap":false,"offset":0}}}},
     {"mark":{"type":"point","filled":true,"size":38,"stroke":"black","strokeWidth":1,"opacity":1},"encoding":{
      "shape":{"field":"s","type":"nominal","scale":{"domain":["PH","LEX","MEX"],"range":["circle","square","triangle-up"]},"legend":null},
      "fill":{"field":"s","type":"nominal","scale":{"domain":["PH","LEX","MEX"],"range":["white","black","white"]},"legend":null}}}
    ]},
   {"width":279,"height":187,
    "title":{"text":"Chest","frame":"group","anchor":"start","offset":-20,"dx":6},
    "transform":[{"filter":"datum.p==='sc'"}],
    "encoding":{"x":{"field":"t","type":"quantitative","scale":{"domain":[-0.4,30.4],"nice":false,"zero":false},"axis":null},
     "y":{"field":"m","type":"quantitative","title":"ΔSR (mg/cm²/min)","scale":{"domain":[-0.5,2],"nice":false,"zero":false},"axis":{"values":[-0.5,0,0.5,1,1.5,2],"format":".1f","labelFontSize":12,"titlePadding":12,"labelOverlap":false,"offset":0}}},
    "layer":[
     {"mark":{"type":"rule","color":"black","strokeWidth":1},"encoding":{"y2":{"field":"e"}}},
     {"mark":{"type":"tick","orient":"horizontal","color":"black","size":5,"thickness":1,"opacity":1},"encoding":{"y":{"field":"e","type":"quantitative","title":"ΔSR (mg/cm²/min)","scale":{"domain":[-0.5,2],"nice":false,"zero":false},"axis":{"values":[-0.5,0,0.5,1,1.5,2],"format":".1f","labelFontSize":12,"titlePadding":12,"labelOverlap":false,"offset":0}}}},
     {"mark":{"type":"point","filled":true,"size":38,"stroke":"black","strokeWidth":1,"opacity":1},"encoding":{
      "shape":{"field":"s","type":"nominal","scale":{"domain":["PH","LEX","MEX"],"range":["circle","square","triangle-up"]},"legend":null},
      "fill":{"field":"s","type":"nominal","scale":{"domain":["PH","LEX","MEX"],"range":["white","black","white"]},"legend":null}}}
    ]}
  ],"spacing":43,"resolve":{"scale":{"shape":"independent","fill":"independent"},"legend":{"shape":"independent","fill":"independent"}}}
 ],"spacing":22,"resolve":{"scale":{"shape":"independent","fill":"independent"},"legend":{"shape":"independent","fill":"independent"}}},
 {"hconcat":[
   {"width":264,"height":176,
    "title":{"text":"Back","frame":"group","anchor":"start","offset":-20,"dx":6},
    "transform":[{"filter":"datum.p==='gb'"}],
    "encoding":{"x":{"field":"t","type":"quantitative","scale":{"domain":[-0.4,30.4],"nice":false,"zero":false},"axis":{"values":[0,5,10,15,20,25,30],"labelExpr":"datum.value === 0 ? 'Rest' : datum.label","labelFlush":false,"title":"Time (min)","titleFontWeight":"bold","titleFontSize":12.5,"titlePadding":10}},
     "y":{"field":"m","type":"quantitative","title":"ΔGSC (μS)","scale":{"domain":[-10,60],"nice":false,"zero":false},"axis":{"values":[0,20,40,60],"titlePadding":14,"labelOverlap":false,"offset":0}}},
    "layer":[
     {"mark":{"type":"rule","color":"black","strokeWidth":1},"encoding":{"y2":{"field":"e"}}},
     {"mark":{"type":"tick","orient":"horizontal","color":"black","size":5,"thickness":1,"opacity":1},"encoding":{"y":{"field":"e","type":"quantitative","title":"ΔGSC (μS)","scale":{"domain":[-10,60],"nice":false,"zero":false},"axis":{"values":[0,20,40,60],"titlePadding":14,"labelOverlap":false,"offset":0}}}},
     {"mark":{"type":"point","filled":true,"size":38,"stroke":"black","strokeWidth":1,"opacity":1},"encoding":{
      "shape":{"field":"s","type":"nominal","scale":{"domain":["PH","LEX","MEX"],"range":["circle","square","triangle-up"]},"legend":{"orient":"none","legendX":32,"legendY":228,"direction":"horizontal","title":null,"columnPadding":29.5,"labelFontSize":12,"symbolSize":30,"labelOffset":6,"encode":{"symbols":{"update":{"stroke":{"value":"black"},"strokeWidth":{"value":1}}}}}},
      "fill":{"field":"s","type":"nominal","scale":{"domain":["PH","LEX","MEX"],"range":["white","black","white"]},"legend":{"orient":"none","legendX":32,"legendY":228,"direction":"horizontal","title":null,"columnPadding":29.5,"labelFontSize":12,"symbolSize":30,"labelOffset":6,"encode":{"symbols":{"update":{"stroke":{"value":"black"},"strokeWidth":{"value":1}}}}}}}}
    ]},
   {"width":261,"height":176,
    "title":{"text":"Back","frame":"group","anchor":"start","offset":-20,"dx":6},
    "transform":[{"filter":"datum.p==='sb'"}],
    "encoding":{"x":{"field":"t","type":"quantitative","scale":{"domain":[-0.4,30.4],"nice":false,"zero":false},"axis":{"values":[0,5,10,15,20,25,30],"labelExpr":"datum.value === 0 ? 'Rest' : datum.label","labelFlush":false,"labelFontSize":12,"title":"Time (min)","titleFontWeight":"bold","titleFontSize":12.5,"titlePadding":10}},
     "y":{"field":"m","type":"quantitative","title":"ΔSR (mg/cm²/min)","scale":{"domain":[-0.5,2],"nice":false,"zero":false},"axis":{"values":[-0.5,0,0.5,1,1.5,2],"format":".1f","labelFontSize":12,"titlePadding":12,"labelOverlap":false,"offset":0}}},
    "layer":[
     {"mark":{"type":"rule","color":"black","strokeWidth":1},"encoding":{"y2":{"field":"e"}}},
     {"mark":{"type":"tick","orient":"horizontal","color":"black","size":5,"thickness":1,"opacity":1},"encoding":{"y":{"field":"e","type":"quantitative","title":"ΔSR (mg/cm²/min)","scale":{"domain":[-0.5,2],"nice":false,"zero":false},"axis":{"values":[-0.5,0,0.5,1,1.5,2],"format":".1f","labelFontSize":12,"titlePadding":12,"labelOverlap":false,"offset":0}}}},
     {"mark":{"type":"point","filled":true,"size":38,"stroke":"black","strokeWidth":1,"opacity":1},"encoding":{
      "shape":{"field":"s","type":"nominal","scale":{"domain":["PH","LEX","MEX"],"range":["circle","square","triangle-up"]},"legend":{"orient":"none","legendX":36,"legendY":228,"direction":"horizontal","title":null,"columnPadding":29.5,"labelFontSize":12,"symbolSize":30,"labelOffset":6,"encode":{"symbols":{"update":{"stroke":{"value":"black"},"strokeWidth":{"value":1}}}}}},
      "fill":{"field":"s","type":"nominal","scale":{"domain":["PH","LEX","MEX"],"range":["white","black","white"]},"legend":{"orient":"none","legendX":36,"legendY":228,"direction":"horizontal","title":null,"columnPadding":29.5,"labelFontSize":12,"symbolSize":30,"labelOffset":6,"encode":{"symbols":{"update":{"stroke":{"value":"black"},"strokeWidth":{"value":1}}}}}}}}
    ]}
 ],"spacing":49,"resolve":{"scale":{"shape":"independent","fill":"independent"},"legend":{"shape":"independent","fill":"independent"}}}
],
"spacing":31,
"resolve":{"scale":{"shape":"independent","fill":"independent"},"legend":{"shape":"independent","fill":"independent"}},
"config":{
 "font":"Liberation Sans",
 "view":{"stroke":null},
 "axis":{"domainColor":"black","domainWidth":2,"tickColor":"black","tickWidth":1.5,"tickSize":4,"labelColor":"black","labelFontSize":11,"labelPadding":2,"titleColor":"black","titleFontSize":12,"titleFontWeight":"normal","grid":false,"labelFont":"Liberation Sans","titleFont":"Liberation Sans"},
 "title":{"font":"Liberation Sans","fontSize":12,"fontWeight":"normal","color":"black"},
 "legend":{"labelFont":"Liberation Sans","labelColor":"black"}
}
}
